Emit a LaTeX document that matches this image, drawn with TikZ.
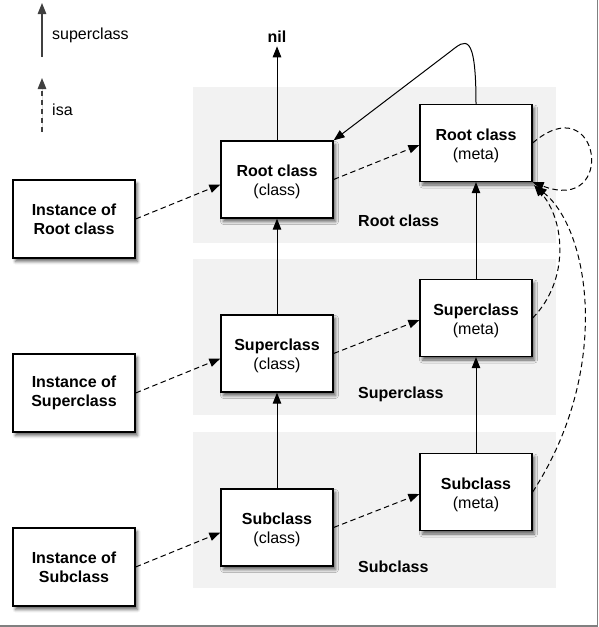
\documentclass[tikz,border=0pt]{standalone}
\usepackage{fontspec}
\setmainfont{Liberation Sans}
\usetikzlibrary{arrows.meta,shadows.blur}
\newcommand\topstrut{\rule{0pt}{16.5pt}}
\begin{document}
\begin{tikzpicture}[x=1pt,y=-1pt,
  box/.style={draw=black,line width=1.3pt,fill=white,inner sep=0pt,align=center,
    minimum width=112pt,minimum height=77pt,
    font=\fontsize{16}{19}\selectfont,
    blur shadow={shadow xshift=2.5pt,shadow yshift=-3.5pt,shadow blur radius=3pt,shadow opacity=60}},
  ibox/.style={box,minimum width=122pt,minimum height=78pt,font=\fontsize{16}{19}\selectfont\bfseries},
  band/.style={fill=black!5,draw=none},
  sup/.style={-{Triangle[length=11pt,width=8.5pt]},line width=1pt},
  isa/.style={sup,dash pattern=on 5.5pt off 3.5pt},
  lbl/.style={font=\fontsize{16}{17}\selectfont\bfseries,anchor=west,inner sep=0pt},
  leg/.style={font=\fontsize{16}{17}\selectfont,anchor=west,inner sep=0pt},
  legarrow/.style={-{Triangle[length=11pt,width=8.5pt]},line width=1.4pt,draw=black!75,fill=black}
]
\useasboundingbox (0,0) rectangle (599,627);
% bands
\fill[band] (193,87) rectangle (556,243);
\fill[band] (193,259) rectangle (556,415);
\fill[band] (193,432) rectangle (556,588);
% frame edge
\draw[black!50,line width=1.5pt] (597.5,0) -- (597.5,626) -- (0,626);
% legend
\coordinate (l1a) at (42,57);
\coordinate (l1b) at (42,3);
\coordinate (l2a) at (42,132);
\coordinate (l2b) at (42,78);
\draw[legarrow] (l1a) -- (l1b);
\draw[legarrow,dash pattern=on 5.5pt off 3.5pt] (l2a) -- (l2b);
\node[leg] (lsup) at (52,35) {superclass};
\node[leg] (lisa) at (52,110) {isa};
% band labels
\node[lbl] (brc) at (358,221) {Root class};
\node[lbl] (bsc) at (358,394) {Superclass};
\node[lbl] (bsub) at (358,567) {Subclass};
% nodes
\node[ibox] (iroot) at (74,219) {Instance of\\Root class};
\node[ibox] (isuper) at (74,393) {Instance of\\Superclass};
\node[ibox] (isub) at (74,567) {Instance of\\Subclass};
\node[box] (rclass) at (277,179.5) {\topstrut\textbf{Root class}\\(class)};
\node[box] (sclass) at (277,353.5) {\topstrut\textbf{Superclass}\\(class)};
\node[box] (subclass) at (277,527.5) {\topstrut\textbf{Subclass}\\(class)};
\node[box] (rmeta) at (476,143) {\topstrut\textbf{Root class}\\(meta)};
\node[box] (smeta) at (476,318) {\topstrut\textbf{Superclass}\\(meta)};
\node[box] (submeta) at (476,492) {\topstrut\textbf{Subclass}\\(meta)};
\node[font=\fontsize{16}{17}\selectfont\bfseries] (nil) at (277,37) {nil};
% superclass links
\draw[sup] (rclass) -- (nil);
\draw[sup] (sclass) -- (rclass);
\draw[sup] (subclass) -- (sclass);
\draw[sup] (smeta) -- (rmeta);
\draw[sup] (submeta) -- (smeta);
\draw[sup] (rmeta.north) .. controls (476,30) and (465,40) .. (451,51) -- (rclass.north east);
% isa links
\draw[isa] (iroot.east) -- ([yshift=-5pt]rclass.west);
\draw[isa] (isuper.east) -- ([yshift=-5pt]sclass.west);
\draw[isa] (isub.east) -- ([yshift=-5pt]subclass.west);
\draw[isa] (rclass.east) -- ([yshift=-2pt]rmeta.west);
\draw[isa] (sclass.east) -- ([yshift=-2pt]smeta.west);
\draw[isa] (subclass.east) -- ([yshift=-2pt]submeta.west);
\draw[isa] (rmeta.east) .. controls (600,85) and (618,215) .. (rmeta.south east);
\draw[isa] (smeta.east) .. controls (570,280) and (565,220) .. ([xshift=1.5pt,yshift=-3pt]rmeta.south east);
\draw[isa] (submeta.east) .. controls (612,370) and (590,230) .. ([xshift=3pt,yshift=-4pt]rmeta.south east);
\end{tikzpicture}
\end{document}
